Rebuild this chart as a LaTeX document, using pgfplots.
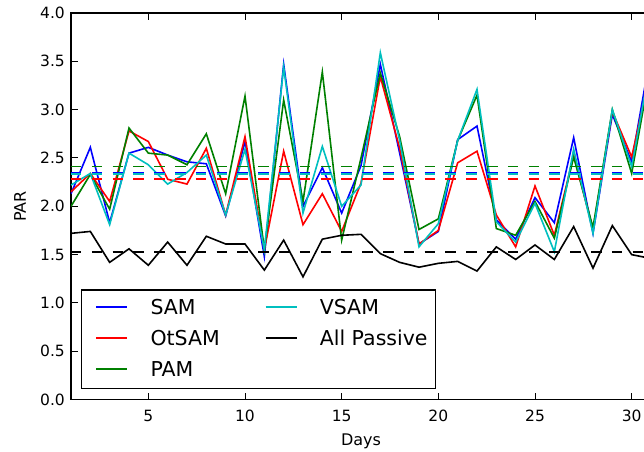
\documentclass[border=0pt]{standalone}
\usepackage{fontspec}
\setmainfont{DejaVu Sans}
\usepackage{pgfplots}
\pgfplotsset{compat=1.18}
\usepackage{pgfplotstable}

\definecolor{mplblue}{rgb}{0,0,1}
\definecolor{mplred}{rgb}{1,0,0}
\definecolor{mplgreen}{rgb}{0,0.5,0}
\definecolor{mplcyan}{rgb}{0,0.75,0.75}

% daily PAR values for each scheme
\pgfplotstableread{
day SAM  OtSAM PAM  VSAM Passive
1   2.13 2.15  2.00 2.22 1.72
2   2.61 2.34  2.33 2.34 1.74
3   1.83 2.05  1.97 1.81 1.42
4   2.55 2.78  2.81 2.55 1.56
5   2.61 2.67  2.55 2.43 1.39
6   2.53 2.28  2.53 2.23 1.63
7   2.46 2.23  2.43 2.35 1.39
8   2.44 2.60  2.75 2.53 1.69
9   1.90 1.91  2.13 1.91 1.61
10  2.67 2.72  3.14 2.59 1.61
11  1.48 1.55  1.55 1.55 1.34
12  3.47 2.57  3.10 3.44 1.65
13  2.00 1.81  2.05 1.93 1.27
14  2.40 2.13  3.39 2.62 1.66
15  1.93 1.74  1.65 2.00 1.70
16  2.42 2.24  2.50 2.22 1.71
17  3.47 3.34  3.38 3.59 1.51
18  2.55 2.60  2.72 2.68 1.42
19  1.61 1.61  1.76 1.58 1.37
20  1.74 1.75  1.87 1.82 1.41
21  2.69 2.45  2.68 2.68 1.43
22  2.83 2.57  3.15 3.21 1.33
23  1.86 1.91  1.77 1.84 1.58
24  1.66 1.58  1.70 1.63 1.45
25  2.09 2.21  2.05 2.03 1.60
26  1.83 1.70  1.67 1.53 1.45
27  2.71 2.53  2.51 2.59 1.79
28  1.72 1.76  1.78 1.72 1.36
29  2.95 2.98  3.00 3.00 1.80
30  2.46 2.51  2.34 2.41 1.50
31  3.60 3.41  3.45 3.51 1.46
}\partable

\begin{document}
\begin{tikzpicture}
\begin{axis}[
  name=ax,
  scale only axis,
  width=580bp, height=386.6bp,
  xmin=1, xmax=31, ymin=0, ymax=4,
  xtick={5,10,15,20,25,30},
  ytick={0,0.5,1,1.5,2,2.5,3,3.5,4},
  /pgf/number format/assume math mode=true,
  yticklabel style={/pgf/number format/.cd, fixed, fixed zerofill, precision=1},
  every tick label/.append style={inner sep=0pt, font=\fontsize{15.5bp}{18bp}\selectfont},
  xticklabel shift=10.4bp,
  yticklabel shift=6bp,
  tick align=inside,
  major tick length=7bp,
  tick style={black, line width=1bp},
  axis line style={line width=1.3bp},
  xlabel={Days}, ylabel={PAR},
  xlabel style={at={(axis description cs:0.5,0)}, anchor=north, yshift=-33.7bp, inner sep=0pt, font=\fontsize{16bp}{19bp}\selectfont},
  ylabel style={at={(axis description cs:-0.0879,0.5)}, anchor=center, inner sep=0pt, font=\fontsize{16bp}{19bp}\selectfont},
  legend columns=2,
  legend style={at={(0.0172,0.0266)}, anchor=south west, draw=black, line width=1.3bp,
    inner xsep=14bp, inner ysep=8bp, column sep=22.3bp, row sep=9.85bp,
    cells={anchor=base west},
    font=\fontsize{20.5bp}{24bp}\selectfont,
    nodes={inner sep=0pt, text height=17bp, text depth=4bp}},
  legend image code/.code={\draw[#1, line width=1.6bp] (0bp,7.7bp) -- (31bp,7.7bp);},
]
% daily series
\addplot[mplblue, line width=1.6bp, forget plot] table[x=day, y=SAM] {\partable};
\addplot[mplred, line width=1.6bp, forget plot] table[x=day, y=OtSAM] {\partable};
\addplot[mplgreen, line width=1.6bp, forget plot] table[x=day, y=PAM] {\partable};
\addplot[mplcyan, line width=1.6bp, forget plot] table[x=day, y=VSAM] {\partable};
\addplot[black, line width=1.6bp, forget plot] table[x=day, y=Passive] {\partable};
% monthly means
\addplot[mplblue, line width=1.6bp, dash pattern=on 10.5bp off 10.3bp, forget plot] coordinates {(1,2.35) (31,2.35)};
\addplot[mplred, line width=1.6bp, dash pattern=on 10.5bp off 10.3bp, forget plot] coordinates {(1,2.28) (31,2.28)};
\addplot[mplgreen, line width=1.6bp, dash pattern=on 10.5bp off 10.3bp, forget plot] coordinates {(1,2.41) (31,2.41)};
\addplot[mplcyan, line width=1.6bp, dash pattern=on 10.5bp off 10.3bp, forget plot] coordinates {(1,2.335) (31,2.335)};
\addplot[black, line width=1.6bp, dash pattern=on 10.5bp off 10.3bp, forget plot] coordinates {(1,1.53) (31,1.53)};
% legend, filled row by row
\addlegendimage{mplblue}
\addlegendentry{\makebox[92.1bp][l]{SAM}}
\addlegendimage{mplcyan}
\addlegendentry{VSAM}
\addlegendimage{mplred}
\addlegendentry{\makebox[92.1bp][l]{OtSAM}}
\addlegendimage{black}
\addlegendentry{\makebox[101.7bp][l]{All Passive}}
\addlegendimage{mplgreen}
\addlegendentry{\makebox[92.1bp][l]{PAM}}
\end{axis}
\pgfresetboundingbox
\path[use as bounding box] ([shift={(-71bp,-52.4bp)}]ax.south west) rectangle ([shift={(573bp,399.6bp)}]ax.south west);
\end{tikzpicture}
\end{document}
